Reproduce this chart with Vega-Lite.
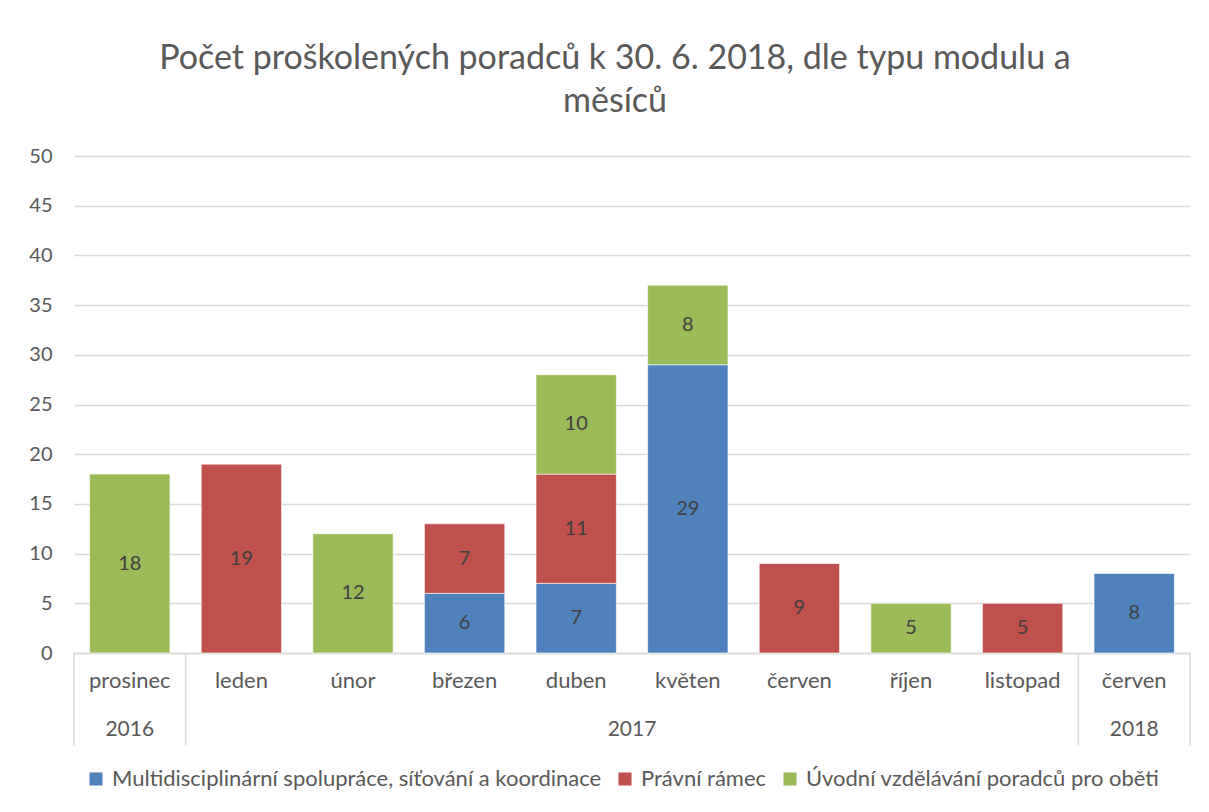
{
  "$schema": "https://vega.github.io/schema/vega-lite/v6.json",
  "autosize": "none",
  "width": 1116,
  "height": 497,
  "padding": {"left": 74, "top": 156, "right": 19, "bottom": 159},
  "background": "white",
  "config": {
    "view": {"stroke": null},
    "font": "Lato",
    "text": {"font": "Lato"}
  },
  "title": {
    "text": ["Počet proškolených poradců k 30. 6. 2018, dle typu modulu a", "měsíců"],
    "font": "Lato",
    "fontSize": 34,
    "fontWeight": "normal",
    "color": "#595959",
    "anchor": "middle",
    "dx": -17,
    "offset": 27,
    "lineHeight": 43
  },
  "datasets": {
    "bars": [
      {"key": "prosinec 2016", "series": "Úvodní vzdělávání poradců pro oběti", "value": 18},
      {"key": "leden 2017", "series": "Právní rámec", "value": 19},
      {"key": "únor 2017", "series": "Úvodní vzdělávání poradců pro oběti", "value": 12},
      {"key": "březen 2017", "series": "Multidisciplinární spolupráce, síťování a koordinace", "value": 6},
      {"key": "březen 2017", "series": "Právní rámec", "value": 7},
      {"key": "duben 2017", "series": "Multidisciplinární spolupráce, síťování a koordinace", "value": 7},
      {"key": "duben 2017", "series": "Právní rámec", "value": 11},
      {"key": "duben 2017", "series": "Úvodní vzdělávání poradců pro oběti", "value": 10},
      {"key": "květen 2017", "series": "Multidisciplinární spolupráce, síťování a koordinace", "value": 29},
      {"key": "květen 2017", "series": "Úvodní vzdělávání poradců pro oběti", "value": 8},
      {"key": "červen 2017", "series": "Právní rámec", "value": 9},
      {"key": "říjen 2017", "series": "Úvodní vzdělávání poradců pro oběti", "value": 5},
      {"key": "listopad 2017", "series": "Právní rámec", "value": 5},
      {"key": "červen 2018", "series": "Multidisciplinární spolupráce, síťování a koordinace", "value": 8}
    ]
  },
  "layer": [
    {
      "data": {"name": "bars"},
      "mark": {"type": "bar", "width": {"band": 0.72}, "stroke": "white", "strokeWidth": 1, "strokeOpacity": 0.6},
      "encoding": {
        "x": {
          "field": "key", "type": "nominal",
          "scale": {"domain": ["prosinec 2016", "leden 2017", "únor 2017", "březen 2017", "duben 2017", "květen 2017", "červen 2017", "říjen 2017", "listopad 2017", "červen 2018"], "paddingInner": 0, "paddingOuter": 0},
          "axis": {
            "title": null,
            "labelExpr": "split(datum.value, ' ')[0]",
            "labelAngle": 0,
            "labelFont": "Lato",
            "labelFontSize": 22,
            "labelColor": "#595959",
            "labelPadding": 17,
            "ticks": false,
            "domainColor": "#d9d9d9",
            "domainWidth": 1.5,
            "grid": false
          }
        },
        "y": {
          "field": "value", "type": "quantitative", "aggregate": "sum", "stack": "zero",
          "scale": {"domain": [0, 50], "nice": false},
          "axis": {
            "title": null,
            "values": [0, 5, 10, 15, 20, 25, 30, 35, 40, 45, 50],
            "domain": false,
            "ticks": false,
            "gridColor": "#d9d9d9",
            "gridWidth": 1.5,
            "labelFont": "Lato",
            "labelFontSize": 20,
            "labelColor": "#595959",
            "labelPadding": 22
          }
        },
        "color": {
          "field": "series", "type": "nominal",
          "scale": {
            "domain": ["Multidisciplinární spolupráce, síťování a koordinace", "Právní rámec", "Úvodní vzdělávání poradců pro oběti"],
            "range": ["#4f81bd", "#c0504d", "#9bbb59"]
          },
          "legend": {
            "title": null,
            "orient": "none",
            "legendX": 11,
            "legendY": 612,
            "direction": "horizontal",
            "symbolType": "square",
            "symbolSize": 170,
            "symbolStrokeWidth": 0,
            "labelFont": "Lato",
            "labelFontSize": 22,
            "labelColor": "#595959",
            "columnPadding": 12,
            "labelOffset": 5,
            "labelLimit": 700
          }
        },
        "order": {"field": "series", "sort": "ascending"}
      }
    },
    {
      "data": {"name": "bars"},
      "transform": [
        {"stack": "value", "groupby": ["key"], "sort": [{"field": "series", "order": "ascending"}], "as": ["v0", "v1"]},
        {"calculate": "(datum.v0 + datum.v1) / 2", "as": "mid"}
      ],
      "mark": {"type": "text", "font": "Lato", "fontSize": 20, "color": "#404040", "baseline": "middle"},
      "encoding": {
        "x": {"field": "key", "type": "nominal"},
        "y": {"field": "mid", "type": "quantitative"},
        "text": {"field": "value", "type": "quantitative"}
      }
    },
    {
      "data": {"values": [{"key": "prosinec 2016"}, {"key": "leden 2017"}, {"key": "červen 2018"}]},
      "mark": {"type": "rule", "color": "#d9d9d9", "strokeWidth": 1.5},
      "encoding": {
        "x": {"field": "key", "type": "nominal", "bandPosition": 0},
        "y": {"datum": 0},
        "y2": {"datum": -9.3}
      }
    },
    {
      "data": {"values": [{"key": "červen 2018"}]},
      "mark": {"type": "rule", "color": "#d9d9d9", "strokeWidth": 1.5},
      "encoding": {
        "x": {"field": "key", "type": "nominal", "bandPosition": 1},
        "y": {"datum": 0},
        "y2": {"datum": -9.3}
      }
    },
    {
      "data": {"values": [{"key": "prosinec 2016", "year": "2016"}, {"key": "červen 2018", "year": "2018"}]},
      "mark": {"type": "text", "font": "Lato", "fontSize": 21, "color": "#595959", "baseline": "middle"},
      "encoding": {
        "x": {"field": "key", "type": "nominal", "bandPosition": 0.5},
        "y": {"datum": -7.75},
        "text": {"field": "year"}
      }
    },
    {
      "data": {"values": [{"key": "květen 2017", "year": "2017"}]},
      "mark": {"type": "text", "font": "Lato", "fontSize": 21, "color": "#595959", "baseline": "middle"},
      "encoding": {
        "x": {"field": "key", "type": "nominal", "bandPosition": 0},
        "y": {"datum": -7.75},
        "text": {"field": "year"}
      }
    }
  ]
}
